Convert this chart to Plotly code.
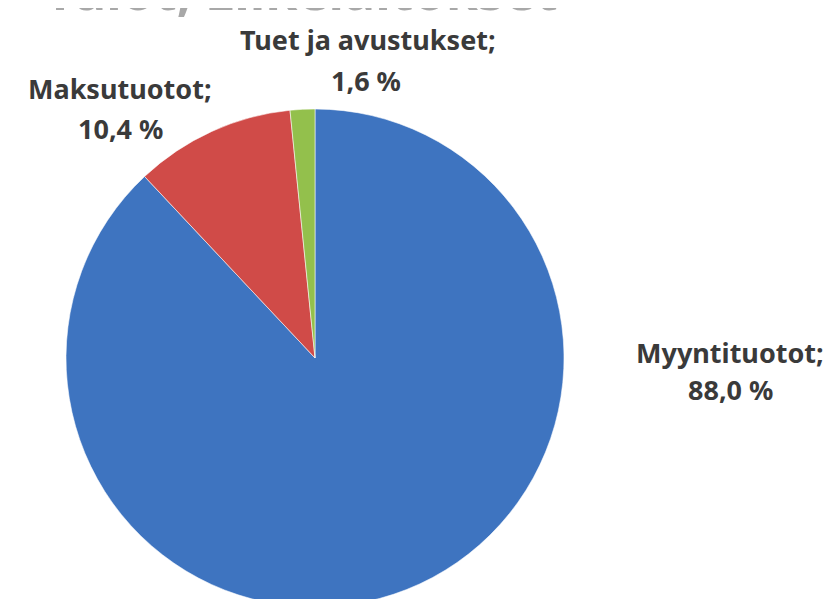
import plotly.graph_objects as go

# Tulojen jakauma
labels = ["Myyntituotot", "Maksutuotot", "Tuet ja avustukset"]
values = [88.0, 10.4, 1.6]
colors = ["#3e74c0", "#d04b48", "#93c04c"]
title_text = "Tulot; Liikelaitokset"

W, H = 833, 599
cx, cy, r = 307, 350, 249  # pie centre / radius in pixels

fig = go.Figure(go.Pie(
    labels=labels,
    values=values,
    sort=False,
    direction="clockwise",
    rotation=0,
    marker=dict(colors=colors, line=dict(color="rgba(255,255,255,0.55)", width=1)),
    textinfo="none",
    hoverinfo="label+percent",
    domain=dict(x=[(cx - r) / W, (cx + r) / W], y=[0, (H - (cy - r)) / H]),
))


def fmt(v):
    return f"{v:.1f} %".replace(".", ",")


# label positions (pixel centres of the two lines)
label_pos = {
    "Myyntituotot": ((722, 344), (722, 381)),
    "Maksutuotot": ((112, 80), (112, 121)),
    "Tuet ja avustukset": ((360, 31), (358, 73)),
}

font = dict(family="Noto Sans, Open Sans, sans-serif", size=27, color="#3a3a3a")
for lab, val in zip(labels, values):
    (x1, y1), (x2, y2) = label_pos[lab]
    fig.add_annotation(text=f"<b>{lab};</b>", x=x1 / W, y=1 - y1 / H,
                       xref="paper", yref="paper", showarrow=False, font=font,
                       xanchor="center", yanchor="middle")
    fig.add_annotation(text=f"<b>{fmt(val)}</b>", x=x2 / W, y=1 - y2 / H,
                       xref="paper", yref="paper", showarrow=False, font=font,
                       xanchor="center", yanchor="middle")

# title, mostly cut off at the top edge of the picture
fig.add_annotation(text=f"<b>{title_text}</b>", x=35 / W, y=1 - 19 / H,
                   xref="paper", yref="paper", showarrow=False,
                   font=dict(family="Noto Sans, sans-serif", size=52, color="#a8a8a8"),
                   xanchor="left", yanchor="bottom")

fig.update_layout(
    width=W, height=H,
    margin=dict(l=0, r=0, t=0, b=0),
    showlegend=False,
    paper_bgcolor="white",
    plot_bgcolor="white",
)

fig.write_html("out.html")
